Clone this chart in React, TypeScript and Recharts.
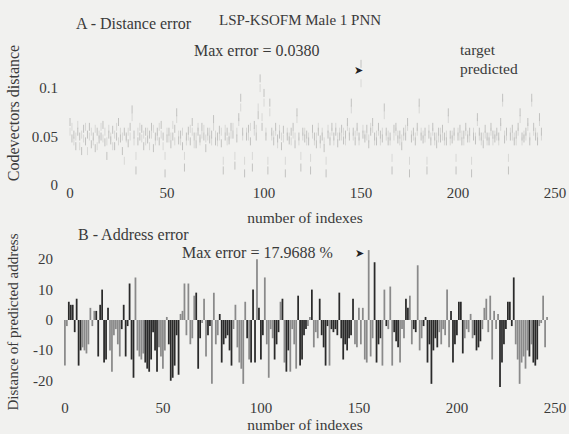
import React from 'react';
import { ScatterChart, Scatter, BarChart, Bar, XAxis, YAxis, Cell } from 'recharts';

const indexTicks = [0, 50, 100, 150, 200, 250];
const distTicks = [0, 0.05, 0.1];
const addrTicks = [-20, -10, 0, 10, 20];

const predictedDist = [
  0.065, 0.048, 0.052, 0.04, 0.055, 0.05, 0.035, 0.058, 0.045, 0.052, 0.06, 0.042, 0.05, 0.038, 0.055, 0.047, 0.05, 0.062, 0.044, 0.03,
  0.052, 0.046, 0.057, 0.04, 0.05, 0.065, 0.048, 0.035, 0.055, 0.05, 0.043, 0.06, 0.078, 0.052, 0.015, 0.045, 0.05, 0.058, 0.04, 0.055,
  0.047, 0.052, 0.06, 0.038, 0.05, 0.055, 0.045, 0.062, 0.05, 0.012, 0.048, 0.055, 0.042, 0.05, 0.058, 0.075, 0.046, 0.052, 0.04, 0.018,
  0.05, 0.056, 0.045, 0.065, 0.05, 0.042, 0.055, 0.048, 0.06, 0.05, 0.038, 0.055, 0.047, 0.052, 0.068, 0.045, 0.05, 0.057, 0.043, 0.015,
  0.05, 0.055, 0.046, 0.06, 0.052, 0.02, 0.048, 0.07, 0.09, 0.055, 0.012, 0.05, 0.058, 0.045, 0.018, 0.062, 0.05, 0.072, 0.11, 0.06,
  0.095, 0.05, 0.015, 0.085, 0.055, 0.045, 0.06, 0.048, 0.052, 0.04, 0.057, 0.012, 0.05, 0.046, 0.055, 0.06, 0.042, 0.075, 0.05, 0.018,
  0.055, 0.048, 0.052, 0.045, 0.015, 0.058, 0.05, 0.042, 0.055, 0.047, 0.05, 0.038, 0.012, 0.052, 0.045, 0.06, 0.05, 0.055, 0.043, 0.05,
  0.058, 0.046, 0.052, 0.065, 0.05, 0.085, 0.055, 0.045, 0.06, 0.05, 0.125, 0.052, 0.048, 0.058, 0.042, 0.055, 0.065, 0.05, 0.045, 0.06,
  0.052, 0.048, 0.08, 0.055, 0.045, 0.05, 0.015, 0.058, 0.06, 0.047, 0.052, 0.04, 0.055, 0.05, 0.065, 0.012, 0.048, 0.055, 0.045, 0.06,
  0.085, 0.05, 0.047, 0.055, 0.015, 0.052, 0.045, 0.06, 0.05, 0.042, 0.055, 0.048, 0.058, 0.05, 0.045, 0.075, 0.052, 0.047, 0.055, 0.015,
  0.05, 0.058, 0.045, 0.052, 0.06, 0.048, 0.055, 0.012, 0.05, 0.046, 0.07, 0.055, 0.05, 0.042, 0.058, 0.05, 0.045, 0.06, 0.052, 0.048,
  0.055, 0.05, 0.065, 0.09, 0.047, 0.055, 0.015, 0.05, 0.058, 0.045, 0.052, 0.06, 0.075, 0.05, 0.048, 0.055, 0.065, 0.045, 0.09, 0.06,
  0.05, 0.045, 0.07, 0.055,
];

const targetDist = [
  0.055, 0.06, 0.045, 0.05, 0.062, 0.04, 0.052, 0.048, 0.06, 0.035, 0.05, 0.055, 0.045, 0.058, 0.04, 0.052, 0.06, 0.048, 0.055, 0.045,
  0.058, 0.05, 0.04, 0.052, 0.06, 0.045, 0.055, 0.05, 0.025, 0.048, 0.055, 0.05, 0.07, 0.045, 0.03, 0.055, 0.06, 0.048, 0.052, 0.045,
  0.055, 0.04, 0.052, 0.058, 0.045, 0.05, 0.06, 0.052, 0.04, 0.03, 0.055, 0.048, 0.05, 0.062, 0.045, 0.068, 0.052, 0.045, 0.055, 0.03,
  0.045, 0.05, 0.058, 0.055, 0.042, 0.05, 0.06, 0.045, 0.052, 0.058, 0.048, 0.05, 0.055, 0.045, 0.06, 0.052, 0.044, 0.05, 0.055, 0.025,
  0.058, 0.045, 0.05, 0.052, 0.06, 0.03, 0.055, 0.065, 0.08, 0.05, 0.025, 0.055, 0.05, 0.06, 0.03, 0.055, 0.058, 0.08, 0.1, 0.07,
  0.085, 0.055, 0.025, 0.075, 0.05, 0.052, 0.055, 0.042, 0.058, 0.05, 0.048, 0.025, 0.055, 0.05, 0.045, 0.052, 0.05, 0.068, 0.045, 0.03,
  0.05, 0.055, 0.045, 0.05, 0.028, 0.052, 0.045, 0.05, 0.06, 0.042, 0.055, 0.045, 0.025, 0.058, 0.05, 0.055, 0.045, 0.06, 0.05, 0.055,
  0.05, 0.055, 0.045, 0.06, 0.055, 0.078, 0.05, 0.052, 0.055, 0.045, 0.105, 0.058, 0.052, 0.05, 0.048, 0.06, 0.058, 0.045, 0.052, 0.055,
  0.045, 0.055, 0.072, 0.05, 0.052, 0.045, 0.028, 0.05, 0.055, 0.052, 0.045, 0.048, 0.05, 0.058, 0.06, 0.025, 0.052, 0.05, 0.05, 0.055,
  0.078, 0.055, 0.052, 0.048, 0.025, 0.058, 0.05, 0.055, 0.045, 0.05, 0.048, 0.055, 0.05, 0.045, 0.052, 0.068, 0.045, 0.052, 0.05, 0.028,
  0.055, 0.05, 0.052, 0.045, 0.055, 0.052, 0.048, 0.025, 0.055, 0.05, 0.065, 0.05, 0.045, 0.05, 0.052, 0.045, 0.05, 0.055, 0.045, 0.052,
  0.05, 0.045, 0.06, 0.085, 0.052, 0.05, 0.028, 0.055, 0.05, 0.05, 0.045, 0.055, 0.068, 0.045, 0.052, 0.05, 0.06, 0.05, 0.085, 0.055,
  0.055, 0.05, 0.065, 0.05,
];

const addressError = [
  -15, -2, 6, 5, 5, -4, 7, -15, -10, -9,
  -10, -11, -8, 4, -2, 3, 3, -12, 5, 10,
  -14, -13, 4, -10, -17, -5, -3, -8, -12, -3,
  5, -12, -2, 12, -13, -19, 14, -10, -12, -13,
  -11, -14, -16, -17, -13, -4, -10, -17, -9, -12,
  -16, -10, 1, -8, -20, -19, -15, -5, -18, 2,
  3, 12, -5, 12, -8, -6, 8, 9, -16, -6,
  -1, 7, -12, -5, -2, -21, 9, -8, -5, 2,
  -14, -8, -6, -5, -10, -15, -3, 5, -9, -14,
  -16, -21, 6, -6, -13, -14, 10, -14, 20, 4,
  -13, -5, 14, -8, -19, -3, -6, -13, -8, -4,
  6, 7, -14, -17, -10, -17, -3, -8, -16, 8,
  -15, -13, -5, -3, -2, 1, 10, -9, -4, -6,
  7, -5, -9, -15, -2, -15, -3, -4, -3, -5,
  9, -6, -13, -8, -10, -6, -5, 7, -8, -9,
  4, -8, 4, -13, -14, 23, -12, -6, 19, -14,
  -8, -6, -15, 10, -2, -3, 11, -15, -4, -7,
  -9, -14, -3, -6, 7, 4, 8, -8, -3, -4,
  18, -10, -6, -2, 1, -14, -8, -21, -10, -6,
  -9, -4, -8, -3, -5, 10, -9, 3, -14, -8,
  -5, 6, 6, -11, -6, -3, -4, 2, -6, -5,
  -10, -9, -7, -3, 4, 7, -4, 8, -13, 3,
  -3, 2, -22, -14, -8, -3, 6, 6, -2, 14,
  -8, -13, -21, -14, -12, -16, -10, -12, -8, -14,
  -15, -13, -2, -1, 8, -9, 1,
];

// measurement group of each bar (d = dark, g = grey in the print)
const addressGroup = (
  'ggdddddddg' + 'ggggggdddd' + 'dddggggggd' + 'ddddddgggg' + 'gdddddddgg' +
  'gggddddddg' + 'gggggggddd' + 'gggddggggd' + 'ddddddgggg' + 'gggdgdddgd' +
  'ddgggggddd' + 'gdgddggggd' + 'ddddggdggg' + 'dddddgdddd' + 'ddddddddgg' +
  'ggggggggdd' + 'ddggdgggdd' + 'dgggddggdd' + 'gggddddddd' + 'dggggggddd' +
  'ddddgggggd' + 'dddggggggg' + 'ggdddddddd' + 'gggggggdgd' + 'ddggggg'
).split('');

const FONT = '"Liberation Serif", "Times New Roman", serif';
const INK = '#3a3a3a';
const BG = '#f1f1ef';

const predData = predictedDist.map((v, i) => ({ i, v }));
const targetData = targetDist.map((v, i) => ({ i, v }));
const addrData = addressError.map((v, i) => ({ i, v, g: addressGroup[i] }));

const makeXTick = (baseline: number) => (props: any) => (
  <text x={props.x} y={baseline} textAnchor="middle" fontFamily={FONT} fontSize={15} fill={INK}>
    {props.payload.value}
  </text>
);

const makeYTick = (right: number) => (props: any) => (
  <text x={right} y={props.y + 5} textAnchor="end" fontFamily={FONT} fontSize={15} fill={INK}>
    {String(props.payload.value)}
  </text>
);

const Dash = (color: string) => (props: any) => {
  const { cx, cy } = props;
  if (cx == null || cy == null) return <g />;
  return <line x1={cx} x2={cx} y1={cy - 4} y2={cy + 4} stroke={color} strokeWidth={1} />;
};

export default function App() {
  return (
    <div style={{ position: 'absolute', left: 0, top: 0, width: 569, height: 434, background: BG, overflow: 'hidden' }}>
      <div style={{ position: 'absolute', left: 0, top: 0 }}>
        <ScatterChart width={569} height={434} margin={{ top: 59, right: 14, bottom: 0, left: 0 }}>
          <XAxis type="number" dataKey="i" domain={[0, 250]} ticks={indexTicks} interval={0} height={249}
            axisLine={false} tickLine={false} tick={makeXTick(198)} />
          <YAxis type="number" dataKey="v" domain={[0, 0.13]} ticks={distTicks} interval={0} width={70}
            axisLine={false} tickLine={false} tick={makeYTick(58)} allowDataOverflow />
          <Scatter name="target" data={targetData} shape={Dash('#d8d8d6')} isAnimationActive={false} />
          <Scatter name="predicted" data={predData} shape={Dash('#c2c2c0')} isAnimationActive={false} />
        </ScatterChart>
      </div>
      <div style={{ position: 'absolute', left: 0, top: 0 }}>
        <BarChart width={569} height={434} data={addrData} margin={{ top: 244, right: 14, bottom: 0, left: 0 }} barCategoryGap={0}>
          <XAxis type="number" dataKey="i" domain={[0, 250]} ticks={indexTicks} interval={0} height={38}
            axisLine={false} tickLine={false} tick={makeXTick(413)} />
          <YAxis type="number" domain={[-25, 25]} ticks={addrTicks} interval={0} width={65}
            axisLine={false} tickLine={false} tick={makeYTick(53)} />
          <Bar dataKey="v" barSize={2} isAnimationActive={false}>
            {addrData.map((d) => (
              <Cell key={d.i} fill={d.g === 'd' ? '#2a2a2a' : '#8a8a8a'} />
            ))}
          </Bar>
        </BarChart>
      </div>
      <svg width={569} height={434} style={{ position: 'absolute', left: 0, top: 0 }}>
        <g fontFamily={FONT} fill={INK}>
          <text x={219} y={25} fontSize={15}>LSP-KSOFM Male 1 PNN</text>
          <text x={76} y={29} fontSize={16}>A - Distance error</text>
          <text x={194} y={56} fontSize={16}>Max error = 0.0380</text>
          <text x={460} y={55} fontSize={15.5}>target</text>
          <text x={460} y={74} fontSize={15.5}>predicted</text>
          <text x={305} y={223} fontSize={15.5} textAnchor="middle">number of indexes</text>
          <text x={78} y={240} fontSize={16}>B - Address error</text>
          <text x={182} y={258} fontSize={16}>Max error = 17.9688 %</text>
          <text x={305} y={430} fontSize={15.5} textAnchor="middle">number of indexes</text>
          <text transform="translate(19,113) rotate(-90)" fontSize={16} textAnchor="middle">Codevectors distance</text>
          <text transform="translate(18,322) rotate(-90)" fontSize={15} textAnchor="middle">Distance of predicted address</text>
        </g>
        <text x={354} y={74} fontSize={11} fontFamily='"DejaVu Sans"' fill="#222">➤</text>
        <text x={355} y={257} fontSize={11} fontFamily='"DejaVu Sans"' fill="#222">➤</text>
      </svg>
    </div>
  );
}
